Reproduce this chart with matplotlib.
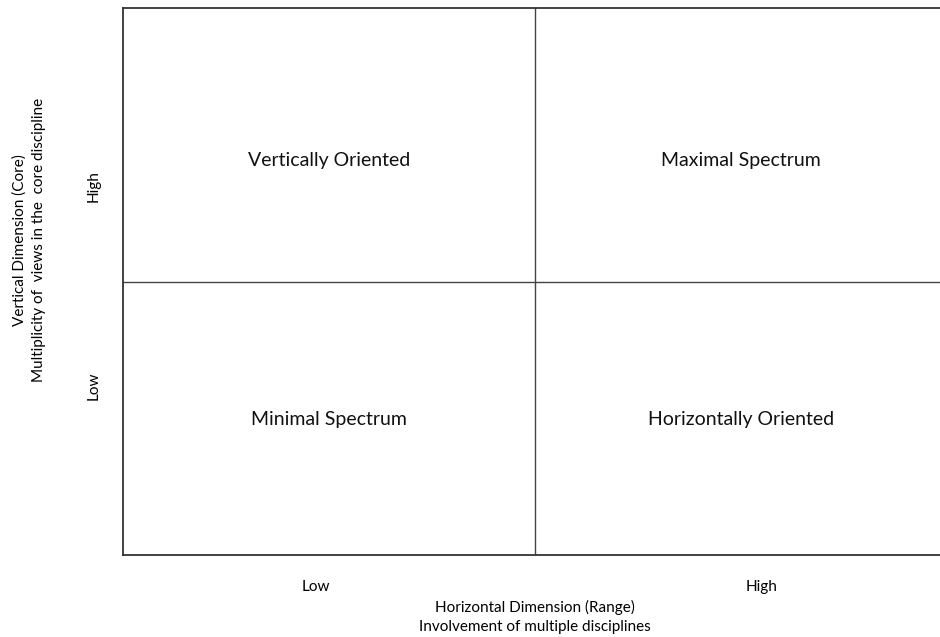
import matplotlib.pyplot as plt

# quadrant names and their (x, y) centres in axis units (0..1)
quadrants = ['Vertically Oriented', 'Maximal Spectrum', 'Minimal Spectrum', 'Horizontally Oriented']
quad_x = [0.25, 0.75, 0.25, 0.75]
quad_y = [0.722, 0.722, 0.247, 0.247]

x_ticks = [0.234, 0.775]
x_tick_labels = ['Low', 'High']
y_ticks = [0.309, 0.675]
y_tick_labels = ['Low', 'High']

x_label = 'Horizontal Dimension (Range)\nInvolvement of multiple disciplines'
y_label = 'Vertical Dimension (Core)\nMultiplicity of  views in the  core discipline'

plt.rcParams['font.family'] = ['Lato', 'DejaVu Sans']

fig = plt.figure(figsize=(9.4, 6.37), dpi=100)
ax = fig.add_axes([123 / 940, 82 / 637, 824 / 940, 547 / 637])
ax.set_xlim(0, 1)
ax.set_ylim(0, 1)

for sp in ax.spines.values():
    sp.set_linewidth(1.3)
    sp.set_color('#333333')

ax.axvline(0.5, color='#444444', lw=1.0)
ax.axhline(0.5, color='#444444', lw=1.0)

for name, qx, qy in zip(quadrants, quad_x, quad_y):
    ax.text(qx, qy, name, ha='center', va='center', fontsize=14, color='#111111')

ax.set_xticks(x_ticks)
ax.set_xticklabels(x_tick_labels, fontsize=11)
ax.set_yticks(y_ticks)
ax.set_yticklabels(y_tick_labels, fontsize=11, rotation=90, va='center')
ax.tick_params(length=0, pad=18)
ax.tick_params(axis='y', pad=16)

ax.set_xlabel(x_label, fontsize=11, linespacing=1.45, labelpad=4)
fig.text(29 / 940, 1 - 240 / 637, y_label, rotation=90, ha='center', va='center',
         fontsize=11, linespacing=1.45, multialignment='center')

plt.savefig('out.png', dpi=100)
